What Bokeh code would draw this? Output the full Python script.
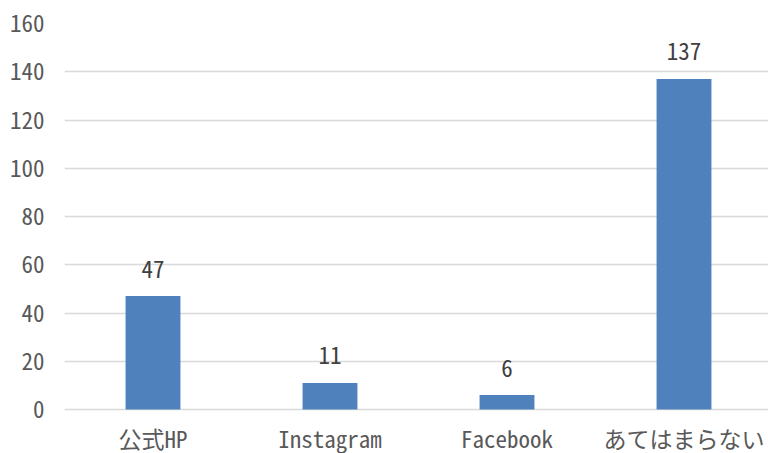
from bokeh.plotting import figure
from bokeh.models import ColumnDataSource, Range1d, FixedTicker, LabelSet
from bokeh.core.properties import value
from bokeh.embed import file_html
from bokeh.resources import INLINE

categories = ["公式HP", "Instagram", "Facebook", "あてはまらない"]
counts = [47, 11, 6, 137]
y_ticks = [0, 20, 40, 60, 80, 100, 120, 140, 160]

FONT = "'Noto Sans Mono CJK JP', 'Noto Sans CJK JP', monospace"

xs = list(range(len(categories)))
src = ColumnDataSource(dict(x=xs, y=counts, lbl=[str(v) for v in counts]))
cat_src = ColumnDataSource(dict(x=xs, y=[0] * len(xs), name=categories))

W, H = 768, 453
LEFT, TOP = 64, 23
frame_w = W - LEFT
frame_h = H - TOP
zero_px = 386           # pixels from frame top to the zero line
below_px = frame_h - zero_px
ppu = zero_px / 160.0
p = figure(width=W, height=H, output_backend="svg", toolbar_location=None,
           x_range=Range1d(-0.5, -0.5 + frame_w / 177),
           y_range=Range1d(-below_px / ppu, 160),
           min_border_left=LEFT, min_border_right=0, min_border_top=TOP,
           min_border_bottom=0)
p.outline_line_color = None
p.background_fill_color = "white"

p.vbar(x="x", top="y", width=0.31, source=src, color="#4F81BD", line_color=None)

labels = LabelSet(x="x", y="y", text="lbl", source=src, text_align="center",
                  text_baseline="middle", y_offset=27, text_font_size="23px",
                  text_color="#404040", text_font=value(FONT))
p.add_layout(labels)

cat_labels = LabelSet(x="x", y="y", text="name", source=cat_src, text_align="center",
                      text_baseline="middle", y_offset=-28, text_font_size="23px",
                      text_color="#595959", text_font=value(FONT))
p.add_layout(cat_labels)

p.xgrid.visible = False
p.ygrid.grid_line_color = "#d9d9d9"
p.ygrid.grid_line_width = 1.5
p.yaxis.ticker = FixedTicker(ticks=y_ticks)
p.xaxis.visible = False

ax = p.yaxis[0]
ax.axis_line_color = None
ax.major_tick_line_color = None
ax.minor_tick_line_color = None
ax.major_tick_out = 0
ax.major_tick_in = 0
ax.major_label_text_font = FONT
ax.major_label_text_font_size = "23px"
ax.major_label_text_color = "#595959"
ax.major_label_standoff = 20

open("out.html", "w").write(file_html(p, INLINE))
